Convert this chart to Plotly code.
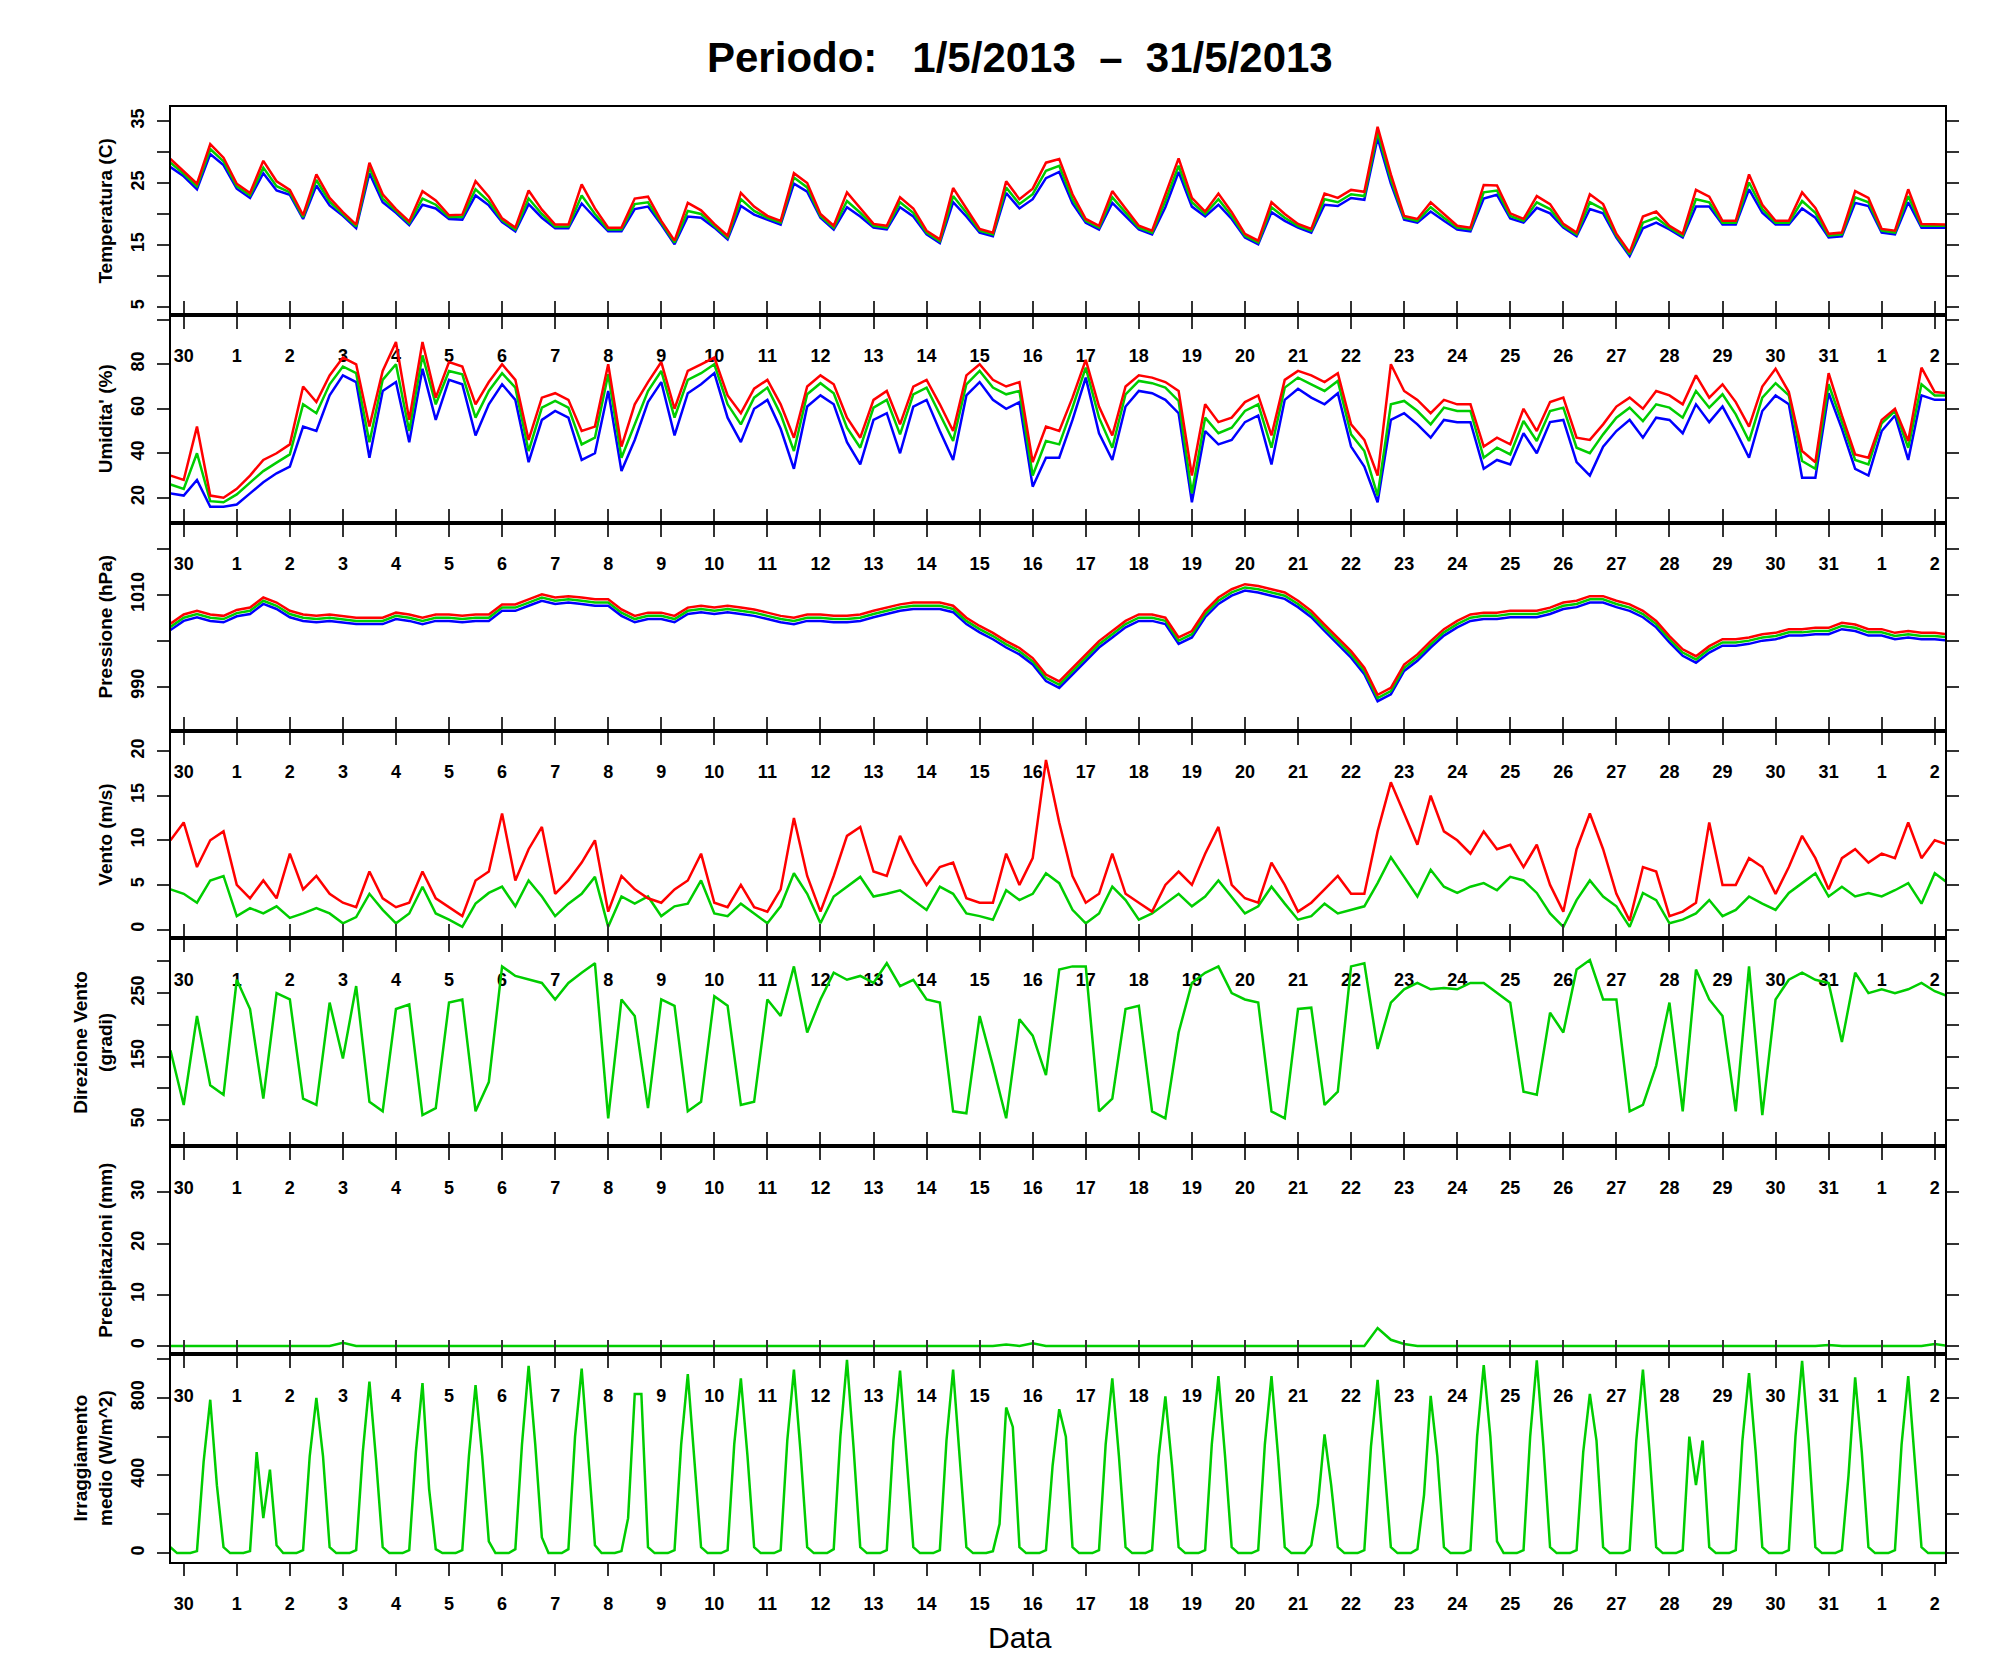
import pandas as pd
import plotly.graph_objects as go
from plotly.subplots import make_subplots

# time grids: 6 hourly for most series, 3 hourly for the irradiance
t6 = pd.date_range("2013-04-29 18:00", "2013-06-02 06:00", freq="6h")
t3 = pd.date_range("2013-04-29 18:00", "2013-06-02 06:00", freq="3h")

# day ticks (30 1 2 ... 31 1 2)
day_ticks = pd.date_range("2013-04-30", "2013-06-02", freq="D")
day_labels = [str(d.day) for d in day_ticks]

# Temperatura (C): max / media / min
temp_max = [28.9,
    26.9, 24.9, 31.3, 29.1, 24.9, 23.4, 28.6, 25.3,
    23.9, 19.8, 26.4, 22.6, 20.3, 18.3, 28.3, 23.2,
    20.8, 18.8, 23.7, 22.2, 19.8, 19.9, 25.3, 22.8,
    19.3, 17.8, 23.8, 20.7, 18.3, 18.3, 24.8, 20.9,
    17.8, 17.8, 22.5, 22.8, 18.9, 15.7, 21.8, 20.6,
    18.4, 16.5, 23.4, 21.2, 19.7, 18.9, 26.6, 25.0,
    20.0, 18.1, 23.5, 20.9, 18.4, 18.1, 22.7, 20.9,
    17.3, 15.9, 24.2, 20.9, 17.6, 17.0, 25.3, 22.4,
    24.1, 28.3, 28.9, 23.2, 19.2, 18.1, 23.7, 20.9,
    18.1, 17.3, 23.3, 29.0, 22.6, 20.4, 23.3, 20.3,
    16.8, 15.7, 21.9, 20.0, 18.4, 17.6, 23.3, 22.6,
    23.9, 23.6, 34.1, 26.4, 19.7, 19.2, 21.9, 20.0,
    18.1, 17.8, 24.7, 24.6, 20.1, 19.2, 22.9, 21.6,
    18.4, 17.0, 23.2, 21.6, 16.8, 13.8, 19.6, 20.4,
    18.1, 16.8, 23.9, 22.8, 18.9, 18.9, 26.4, 21.5,
    18.9, 18.9, 23.5, 21.0, 16.8, 17.0, 23.7, 22.6,
    17.6, 17.3, 24.0, 18.4, 18.3, 18.3]
temp_med = [28.3,
    26.5, 24.5, 30.5, 28.5, 24.5, 23.0, 27.5, 24.5,
    23.5, 19.5, 25.5, 22.0, 20.0, 18.0, 27.5, 22.5,
    20.5, 18.5, 22.5, 21.5, 19.5, 19.5, 24.0, 22.0,
    19.0, 17.5, 22.5, 20.0, 18.0, 18.0, 23.0, 20.0,
    17.5, 17.5, 21.6, 21.9, 18.6, 15.4, 20.5, 20.0,
    18.1, 16.2, 22.4, 20.5, 19.4, 18.6, 25.9, 24.3,
    19.7, 17.8, 22.1, 20.2, 18.1, 17.8, 21.9, 20.2,
    17.0, 15.6, 22.9, 20.2, 17.3, 16.7, 24.3, 21.6,
    23.2, 27.0, 27.8, 22.4, 18.9, 17.8, 22.7, 20.2,
    17.8, 17.0, 22.1, 27.8, 21.9, 20.0, 22.4, 19.7,
    16.5, 15.4, 21.1, 19.4, 18.1, 17.3, 22.4, 21.9,
    23.2, 22.9, 33.2, 25.6, 19.4, 18.9, 21.1, 19.4,
    17.8, 17.5, 23.5, 23.8, 19.7, 18.9, 21.9, 20.8,
    18.1, 16.7, 21.9, 20.8, 16.5, 13.5, 18.6, 19.4,
    17.8, 16.5, 22.4, 21.9, 18.6, 18.6, 25.1, 20.8,
    18.6, 18.6, 22.1, 20.2, 16.5, 16.7, 22.7, 21.9,
    17.3, 17.0, 22.9, 18.1, 18.1, 18.1]
temp_min = [27.6,
    26.1, 24.0, 29.7, 27.9, 24.1, 22.6, 26.6, 23.8,
    23.1, 19.2, 24.6, 21.4, 19.7, 17.7, 26.6, 21.9,
    20.2, 18.2, 21.5, 20.9, 19.2, 19.1, 23.0, 21.4,
    18.7, 17.2, 21.6, 19.4, 17.7, 17.7, 21.7, 19.4,
    17.2, 17.2, 20.8, 21.2, 18.3, 15.1, 19.6, 19.4,
    17.8, 15.9, 21.3, 19.9, 19.1, 18.3, 24.9, 23.6,
    19.4, 17.5, 21.1, 19.6, 17.8, 17.5, 21.1, 19.6,
    16.7, 15.3, 21.9, 19.6, 17.0, 16.4, 23.4, 20.9,
    22.4, 25.8, 26.8, 21.7, 18.6, 17.5, 21.8, 19.6,
    17.5, 16.7, 21.1, 26.8, 21.2, 19.6, 21.5, 19.2,
    16.2, 15.1, 20.3, 18.9, 17.8, 17.0, 21.5, 21.3,
    22.6, 22.3, 32.3, 24.9, 19.1, 18.6, 20.4, 18.9,
    17.5, 17.2, 22.5, 23.1, 19.3, 18.6, 21.0, 20.1,
    17.8, 16.4, 20.8, 20.1, 16.2, 13.2, 17.7, 18.6,
    17.5, 16.2, 21.2, 21.2, 18.3, 18.3, 24.0, 20.2,
    18.3, 18.3, 20.9, 19.4, 16.2, 16.4, 21.8, 21.3,
    17.0, 16.7, 21.9, 17.8, 17.8, 17.8]

# Umidita' (%)
hum_max = [30,
    28, 52, 21, 20, 24, 30, 37, 40,
    44, 70, 63, 75, 83, 80, 52, 77,
    90, 55, 90, 65, 81, 79, 62, 72,
    80, 73, 46, 65, 67, 64, 50, 52,
    80, 43, 62, 72, 81, 60, 77, 80,
    83, 66, 58, 69, 73, 62, 47, 70,
    75, 71, 56, 47, 64, 68, 53, 70,
    73, 62, 50, 75, 80, 73, 70, 72,
    36, 52, 50, 65, 82, 61, 48, 70,
    75, 74, 72, 68, 30, 62, 54, 56,
    63, 66, 48, 73, 77, 75, 72, 76,
    53, 46, 30, 80, 68, 64, 58, 64,
    62, 62, 43, 47, 44, 60, 50, 63,
    65, 47, 46, 53, 61, 65, 60, 68,
    66, 62, 75, 65, 71, 63, 52, 70,
    78, 67.5, 41, 36, 76, 57, 39.5, 38,
    55, 60, 45.5, 78.5, 67.5, 67]
hum_med = [26,
    24, 40, 18.5, 18, 21.5, 26.8, 32, 35.8,
    39.5, 62, 58, 71, 79, 76, 45, 73,
    80, 50, 84, 62, 77, 75.5, 56, 68,
    76, 69.5, 41, 60.5, 63.5, 60.5, 44, 47,
    75.5, 38, 53, 68, 77, 56, 73, 76,
    80, 62, 53, 65, 69.5, 57.5, 41, 66.5,
    71.5, 67, 51.5, 42.5, 60.5, 64, 48.5, 66.5,
    69.5, 57.5, 45.5, 71, 77, 69.5, 66.5, 68,
    30, 45.5, 44, 60.5, 78.5, 56, 42.5, 66.5,
    72.5, 71.5, 69.5, 63.5, 22, 56, 49, 51.5,
    59, 62, 42.5, 69.5, 74, 71, 68, 72.5,
    48.5, 41, 21, 62, 63.5, 59, 53, 60.5,
    59, 59, 38, 42.5, 39.5, 54.5, 45.5, 59,
    60.5, 42.5, 40, 48.5, 56, 60.5, 54.5, 62,
    60.5, 56, 68, 60.5, 66.5, 57.5, 45.5, 65,
    71.5, 66, 36.5, 33, 71, 54, 37, 35,
    53.5, 59, 42.5, 71, 66, 66]
hum_min = [22,
    21, 28, 16, 16, 17, 22, 27, 31,
    34, 52, 50, 66, 75, 72, 38, 68,
    72, 45, 78, 55, 73, 71, 48, 62,
    71, 64, 36, 55, 59, 56, 37, 40,
    68, 32, 46, 63, 72, 48, 67, 71,
    76, 56, 45, 60, 64, 51, 33, 61,
    66, 62, 45, 35, 55, 58, 40, 61,
    64, 50, 37, 66, 72, 64, 60, 63,
    25, 38, 38, 55, 74, 49, 37, 61,
    68, 67, 64, 58, 18, 50, 44, 46,
    54, 57, 35, 64, 69, 65, 62, 67,
    43, 34, 18, 55, 58, 53, 47, 55,
    54, 54, 33, 37, 35, 49, 40, 54,
    55, 36, 30, 43, 50, 55, 47, 56,
    55, 49, 62, 54, 61, 50, 38, 59,
    66, 62, 29, 29, 67, 51, 33, 30,
    50, 57, 37, 66, 64, 64]

# Pressione (hPa)
pres_max = [1003.7,
    1005.7, 1006.5, 1005.7, 1005.4, 1006.7, 1007.2, 1009.4, 1008.3,
    1006.5, 1005.7, 1005.4, 1005.7, 1005.4, 1005.0, 1005.0, 1005.0,
    1006.1, 1005.7, 1005.0, 1005.7, 1005.7, 1005.4, 1005.7, 1005.7,
    1007.9, 1007.9, 1009.0, 1010.1, 1009.4, 1009.7, 1009.4, 1009.0,
    1009.0, 1006.8, 1005.4, 1006.1, 1006.1, 1005.4, 1007.2, 1007.6,
    1007.2, 1007.6, 1007.2, 1006.8, 1006.1, 1005.4, 1005.0, 1005.7,
    1005.7, 1005.4, 1005.4, 1005.7, 1006.5, 1007.2, 1007.9, 1008.3,
    1008.3, 1008.3, 1007.6, 1005.0, 1003.2, 1001.7, 999.9, 998.4,
    996.2, 992.6, 991.1, 994.1, 997.0, 999.9, 1002.1, 1004.3,
    1005.7, 1005.7, 1005.0, 1000.7, 1002.1, 1006.5, 1009.4, 1011.2,
    1012.3, 1011.9, 1011.2, 1010.5, 1008.7, 1006.5, 1003.5, 1000.7,
    997.7, 994.1, 988.2, 989.7, 994.8, 997.0, 999.9, 1002.5,
    1004.3, 1005.7, 1006.1, 1006.1, 1006.5, 1006.5, 1006.5, 1007.2,
    1008.3, 1008.7, 1009.7, 1009.7, 1008.7, 1007.9, 1006.5, 1004.3,
    1001.0, 998.1, 996.6, 998.8, 1000.3, 1000.3, 1000.7, 1001.4,
    1001.7, 1002.5, 1002.5, 1002.8, 1002.8, 1003.9, 1003.5, 1002.5,
    1002.5, 1001.7, 1002.1, 1001.7, 1001.7, 1001.4]
pres_med = [1003.0,
    1005.0, 1005.8, 1005.0, 1004.7, 1006.0, 1006.5, 1008.7, 1007.6,
    1005.8, 1005.0, 1004.7, 1005.0, 1004.7, 1004.3, 1004.3, 1004.3,
    1005.4, 1005.0, 1004.3, 1005.0, 1005.0, 1004.7, 1005.0, 1005.0,
    1007.2, 1007.2, 1008.3, 1009.4, 1008.7, 1009.0, 1008.7, 1008.3,
    1008.3, 1006.1, 1004.7, 1005.4, 1005.4, 1004.7, 1006.5, 1006.9,
    1006.5, 1006.9, 1006.5, 1006.1, 1005.4, 1004.7, 1004.3, 1005.0,
    1005.0, 1004.7, 1004.7, 1005.0, 1005.8, 1006.5, 1007.2, 1007.6,
    1007.6, 1007.6, 1006.9, 1004.3, 1002.5, 1001.0, 999.2, 997.7,
    995.5, 991.9, 990.4, 993.4, 996.3, 999.2, 1001.4, 1003.6,
    1005.0, 1005.0, 1004.3, 1000.0, 1001.4, 1005.8, 1008.7, 1010.5,
    1011.6, 1011.2, 1010.5, 1009.8, 1008.0, 1005.8, 1002.8, 1000.0,
    997.0, 993.4, 987.5, 989.0, 994.1, 996.3, 999.2, 1001.8,
    1003.6, 1005.0, 1005.4, 1005.4, 1005.8, 1005.8, 1005.8, 1006.5,
    1007.6, 1008.0, 1009.0, 1009.0, 1008.0, 1007.2, 1005.8, 1003.6,
    1000.3, 997.4, 995.9, 998.1, 999.6, 999.6, 1000.0, 1000.7,
    1001.0, 1001.8, 1001.8, 1002.1, 1002.1, 1003.2, 1002.8, 1001.8,
    1001.8, 1001.0, 1001.4, 1001.0, 1001.0, 1000.7]
pres_min = [1002.3,
    1004.3, 1005.1, 1004.3, 1004.0, 1005.3, 1005.8, 1008.0, 1006.9,
    1005.1, 1004.3, 1004.0, 1004.3, 1004.0, 1003.6, 1003.6, 1003.6,
    1004.7, 1004.3, 1003.6, 1004.3, 1004.3, 1004.0, 1004.3, 1004.3,
    1006.5, 1006.5, 1007.6, 1008.7, 1008.0, 1008.3, 1008.0, 1007.6,
    1007.6, 1005.4, 1004.0, 1004.7, 1004.7, 1004.0, 1005.8, 1006.2,
    1005.8, 1006.2, 1005.8, 1005.4, 1004.7, 1004.0, 1003.6, 1004.3,
    1004.3, 1004.0, 1004.0, 1004.3, 1005.1, 1005.8, 1006.5, 1006.9,
    1006.9, 1006.9, 1006.2, 1003.6, 1001.8, 1000.3, 998.5, 997.0,
    994.8, 991.2, 989.7, 992.7, 995.6, 998.5, 1000.7, 1002.9,
    1004.3, 1004.3, 1003.6, 999.3, 1000.7, 1005.1, 1008.0, 1009.8,
    1010.9, 1010.5, 1009.8, 1009.1, 1007.3, 1005.1, 1002.1, 999.3,
    996.3, 992.7, 986.8, 988.3, 993.4, 995.6, 998.5, 1001.1,
    1002.9, 1004.3, 1004.7, 1004.7, 1005.1, 1005.1, 1005.1, 1005.8,
    1006.9, 1007.3, 1008.3, 1008.3, 1007.3, 1006.5, 1005.1, 1002.9,
    999.6, 996.7, 995.2, 997.4, 998.9, 998.9, 999.3, 1000.0,
    1000.3, 1001.1, 1001.1, 1001.4, 1001.4, 1002.5, 1002.1, 1001.1,
    1001.1, 1000.3, 1000.7, 1000.3, 1000.3, 1000.0]

# Vento (m/s): raffica / medio
wind_max = [10,
    12, 7, 10, 11, 5, 3.5, 5.5, 3.5,
    8.5, 4.5, 6, 4, 3, 2.5, 6.5, 3.5,
    2.5, 3, 6.5, 3.5, 2.5, 1.5, 5.5, 6.5,
    13, 5.5, 9, 11.5, 4, 5.5, 7.5, 10,
    2, 6, 4.5, 3.5, 3, 4.5, 5.5, 8.5,
    3, 2.5, 5, 2.5, 2, 4.5, 12.5, 6,
    2, 6, 10.5, 11.5, 6.5, 6, 10.5, 7.5,
    5, 7, 7.5, 3.5, 3, 3, 8.5, 5,
    8, 19, 12, 6, 3, 4, 8.5, 4,
    3, 2, 5, 6.5, 5, 8.5, 11.5, 5,
    3.5, 3, 7.5, 5, 2, 3, 4.5, 6,
    4, 4, 11, 16.5, 13, 9.5, 15, 11,
    10, 8.5, 11, 9, 9.5, 7, 9.5, 5,
    2, 9, 13, 9, 4, 1, 7, 6.5,
    1.5, 2, 3, 12, 5, 5, 8, 7,
    4, 7, 10.5, 8, 4.5, 8, 9, 7.5,
    8.5, 8, 12, 8, 10, 9.5]
wind_med = [4.5,
    4.0, 3.0, 5.5, 6.0, 1.5, 2.4, 1.8, 2.6,
    1.3, 1.8, 2.4, 1.8, 0.7, 1.4, 4.0, 2.2,
    0.7, 1.8, 4.8, 1.8, 1.1, 0.3, 2.9, 4.1,
    4.8, 2.6, 5.5, 3.7, 1.5, 2.9, 4.0, 5.9,
    0.3, 3.7, 2.9, 3.7, 1.5, 2.6, 2.9, 5.5,
    1.8, 1.5, 2.9, 1.8, 0.7, 2.6, 6.3, 4.0,
    0.7, 3.7, 4.8, 5.9, 3.7, 4.0, 4.4, 3.3,
    2.2, 4.8, 4.0, 1.8, 1.5, 1.1, 4.4, 3.3,
    4.0, 6.3, 5.2, 2.2, 0.7, 1.8, 4.8, 3.3,
    1.1, 1.8, 2.9, 4.0, 2.6, 3.7, 5.5, 3.7,
    1.8, 2.6, 4.8, 2.9, 1.1, 1.5, 2.9, 1.8,
    2.2, 2.6, 5.2, 8.1, 5.9, 3.7, 6.7, 4.8,
    4.1, 4.8, 5.2, 4.4, 5.9, 5.5, 4.1, 1.8,
    0.3, 3.3, 5.5, 3.7, 2.6, 0.3, 4.1, 3.3,
    0.7, 1.1, 1.8, 3.3, 1.5, 2.2, 3.7, 2.9,
    2.2, 4.1, 5.2, 6.3, 3.7, 4.8, 3.7, 4.1,
    3.7, 4.4, 5.2, 2.9, 6.3, 5.2]

# Direzione Vento (gradi)
wind_dir = [160,
    74, 214, 105, 90, 271, 225, 84, 250,
    240, 84, 74, 235, 147, 261, 79, 64,
    225, 232, 58, 69, 235, 240, 64, 110,
    292, 277, 271, 266, 240, 266, 282, 297,
    53, 240, 214, 69, 240, 230, 64, 79,
    245, 230, 74, 79, 240, 214, 292, 188,
    240, 282, 271, 277, 266, 297, 261, 271,
    240, 235, 64, 61, 214, 136, 53, 209,
    183, 121, 287, 292, 292, 64, 84, 225,
    230, 64, 53, 188, 266, 282, 292, 250,
    240, 235, 64, 53, 225, 227, 74, 95,
    292, 297, 162, 235, 256, 266, 256, 258,
    256, 266, 266, 250, 235, 95, 90, 219,
    188, 287, 302, 240, 240, 64, 74, 136,
    235, 64, 287, 240, 214, 64, 292, 58,
    240, 271, 282, 271, 266, 173, 282, 250,
    256, 250, 256, 266, 253, 245]

# Precipitazioni (mm)
rain = [0,
    0, 0, 0, 0, 0, 0, 0, 0,
    0, 0, 0, 0, 0.6, 0, 0, 0,
    0, 0, 0, 0, 0, 0, 0, 0,
    0, 0, 0, 0, 0, 0, 0, 0,
    0, 0, 0, 0, 0, 0, 0, 0,
    0, 0, 0, 0, 0, 0, 0, 0,
    0, 0, 0, 0, 0, 0, 0, 0,
    0, 0, 0, 0, 0, 0, 0.3, 0,
    0.5, 0, 0, 0, 0, 0, 0, 0,
    0, 0, 0, 0, 0, 0, 0, 0,
    0, 0, 0, 0, 0, 0, 0, 0,
    0, 0, 3.5, 1.2, 0.4, 0, 0, 0,
    0, 0, 0, 0, 0, 0, 0, 0,
    0, 0, 0, 0, 0, 0, 0, 0,
    0, 0, 0, 0, 0, 0, 0, 0,
    0, 0, 0, 0, 0.2, 0, 0, 0,
    0, 0, 0, 0, 0.4, 0]

# Irraggiamento medio (W/m^2), every 3 hours
irr = [30, 0,
    0, 0, 10, 470, 790, 350, 30, 0,
    0, 0, 10, 520, 180, 430, 40, 0,
    0, 0, 15, 500, 800, 500, 30, 0,
    0, 0, 15, 520, 883, 480, 30, 0,
    0, 0, 15, 520, 876, 330, 20, 0,
    0, 0, 15, 500, 865, 500, 60, 0,
    0, 0, 20, 560, 965, 560, 80, 0,
    0, 0, 20, 600, 950, 500, 40, 0,
    0, 0, 10, 180, 820, 820, 30, 0,
    0, 0, 15, 560, 922, 500, 30, 0,
    0, 0, 15, 560, 900, 500, 30, 0,
    0, 0, 15, 580, 945, 520, 30, 0,
    0, 0, 20, 600, 996, 540, 30, 0,
    0, 0, 15, 580, 940, 500, 30, 0,
    0, 0, 15, 580, 945, 510, 30, 0,
    0, 0, 10, 150, 750, 650, 30, 0,
    0, 0, 15, 450, 741, 600, 30, 0,
    0, 0, 15, 560, 900, 500, 30, 0,
    0, 0, 15, 500, 807, 450, 30, 0,
    0, 0, 15, 560, 912, 500, 30, 0,
    0, 0, 15, 560, 912, 500, 30, 0,
    0, 0, 40, 250, 612, 350, 30, 0,
    0, 0, 15, 550, 893, 480, 30, 0,
    0, 0, 20, 300, 810, 500, 30, 0,
    0, 0, 15, 600, 969, 600, 60, 0,
    0, 0, 15, 600, 993, 550, 30, 0,
    0, 0, 15, 520, 820, 580, 30, 0,
    0, 0, 15, 580, 945, 520, 30, 0,
    0, 0, 15, 600, 350, 580, 30, 0,
    0, 0, 15, 580, 927, 520, 30, 0,
    0, 0, 15, 600, 991, 560, 30, 0,
    0, 0, 15, 400, 905, 520, 30, 0,
    0, 0, 15, 560, 912, 450, 30, 0,
    0, 0, 0]

RED, GREEN, BLUE = "#FF0000", "#00CD00", "#0000FF"
FONT = "Liberation Sans, Arial, sans-serif"
XRANGE = ["2013-04-29 18:15", "2013-06-02 04:38"]

fig = make_subplots(rows=7, cols=1, vertical_spacing=0)

def add_line(x, y, color, row):
    fig.add_trace(go.Scatter(x=x, y=y, mode="lines",
                             line=dict(color=color, width=2.5),
                             showlegend=False), row=row, col=1)

add_line(t6, temp_min, BLUE, 1)
add_line(t6, temp_med, GREEN, 1)
add_line(t6, temp_max, RED, 1)
add_line(t6, hum_min, BLUE, 2)
add_line(t6, hum_med, GREEN, 2)
add_line(t6, hum_max, RED, 2)
add_line(t6, pres_min, BLUE, 3)
add_line(t6, pres_med, GREEN, 3)
add_line(t6, pres_max, RED, 3)
add_line(t6, wind_med, GREEN, 4)
add_line(t6, wind_max, RED, 4)
add_line(t6, wind_dir, GREEN, 5)
add_line(t6, rain, GREEN, 6)
add_line(t3, irr, GREEN, 7)

# y axes: title, range, ticks, labels
panels = [
    ("Temperatura (C)", [3.7, 37.3], [5, 10, 15, 20, 25, 30, 35],
     ["5", "", "15", "", "25", "", "35"]),
    ("Umidita' (%)", [8.8, 102.2], [20, 40, 60, 80, 100],
     ["20", "40", "60", "80", ""]),
    ("Pressione (hPa)", [980.4, 1025.7], [990, 1000, 1010, 1020],
     ["990", "", "1010", ""]),
    ("Vento (m/s)", [-1.0, 22.3], [0, 5, 10, 15, 20],
     ["0", "5", "10", "15", "20"]),
    ("Direzione Vento<br>(gradi)", [9, 336], [50, 100, 150, 200, 250, 300],
     ["50", "", "150", "", "250", ""]),
    ("Precipitazioni (mm)", [-1.6, 39], [0, 10, 20, 30],
     ["0", "10", "20", "30"]),
    ("Irraggiamento<br>medio (W/m^2)", [-46, 1025], [0, 200, 400, 600, 800, 1000],
     ["0", "", "400", "", "800", ""]),
]

tick_font = dict(family=FONT, size=18, color="black", weight="bold")

for i, (title, rng, tv, tt) in enumerate(panels, start=1):
    fig.update_yaxes(row=i, col=1, range=rng, tickvals=tv, ticktext=tt,
                     tickangle=-90, ticks="outside", ticklen=12, tickwidth=1.5,
                     tickcolor="#333", showline=True, linewidth=2,
                     linecolor="black", mirror="ticks", showgrid=False,
                     zeroline=False, ticklabelstandoff=6, tickfont=tick_font,
                     title=dict(text=title, standoff=10,
                                font=dict(family=FONT, size=19, color="black",
                                          weight="bold")))
    fig.update_xaxes(row=i, col=1, type="date", range=XRANGE,
                     tickvals=day_ticks, ticktext=day_labels,
                     showticklabels=True, ticks="outside", ticklen=12,
                     tickwidth=1.5, tickcolor="#333", showline=True,
                     linewidth=2, linecolor="black",
                     mirror=True if i == 1 else "ticks",
                     showgrid=False, zeroline=False, ticklabelstandoff=12,
                     tickfont=tick_font)

# inner ticks along the very top of the first panel
fig.update_layout(xaxis8=dict(overlaying="x", side="top", anchor="y",
                              type="date", range=XRANGE, tickvals=day_ticks,
                              ticks="inside", ticklen=12, tickwidth=1.5,
                              tickcolor="#333", showticklabels=False,
                              showgrid=False, zeroline=False, showline=False))

fig.add_annotation(text="Periodo:\u00a0\u00a0 1/5/2013\u00a0 \u2013\u00a0 31/5/2013",
                   xref="paper", yref="paper", x=0.4786, y=1.0337,
                   showarrow=False, xanchor="center", yanchor="middle",
                   font=dict(family=FONT, size=42, color="black", weight="bold"))
fig.add_annotation(text="Data", xref="paper", yref="paper", x=0.4786, y=-0.0522,
                   showarrow=False, xanchor="center", yanchor="middle",
                   font=dict(family=FONT, size=30, color="black"))

fig.update_layout(width=1991, height=1680,
                  plot_bgcolor="#fff", paper_bgcolor="#fff",
                  margin=dict(l=163, r=54, t=99, b=126),
                  showlegend=False)

fig.write_html("out.html")
